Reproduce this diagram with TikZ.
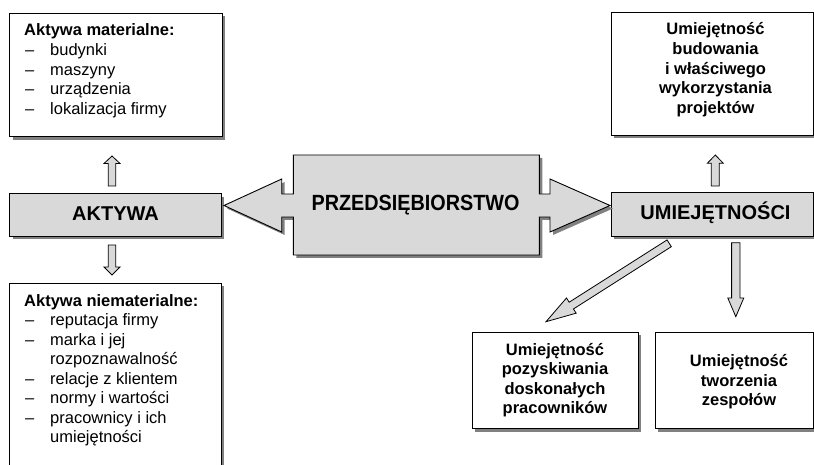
\documentclass[tikz,border=0pt]{standalone}
\usepackage{fontspec}
\setmainfont{Liberation Sans}
\newfontfamily\narrowfont[FakeStretch=0.9]{Liberation Sans}
\usetikzlibrary{calc,shadows}
\definecolor{boxgray}{RGB}{217,217,217}
\definecolor{shadowgray}{RGB}{128,128,128}
\newcommand\BlkArrow[5]{% start, tip, shaft half, head half, head length
  \coordinate (bh) at ($(#2)!#5!(#1)$);
  \draw[blockarrow] ($(#1)!#3!90:(#2)$) -- ($(bh)!#3!90:(#2)$) -- ($(bh)!#4!90:(#2)$) -- (#2)
    -- ($(bh)!#4!-90:(#2)$) -- ($(bh)!#3!-90:(#2)$) -- ($(#1)!#3!-90:(#2)$) -- cycle;
}
\tikzset{
  shad/.style={drop shadow={shadow xshift=3pt, shadow yshift=-3pt, fill=shadowgray, opacity=1}},
  box/.style={draw=black, line width=0.9pt, fill=white, inner sep=0pt, anchor=north west, shad},
  graybox/.style={box, fill=boxgray},
  blockarrow/.style={draw=black, line width=0.8pt, fill=boxgray, line join=miter},
  txt/.style={font=\fontsize{16.5}{19.6}\selectfont, inner sep=0pt, anchor=base west},
  btxt/.style={txt, font=\fontsize{16.5}{19.6}\selectfont\bfseries},
  ctxt/.style={btxt, anchor=base},
  big/.style={font=\fontsize{20}{24}\selectfont\bfseries, inner sep=0pt, anchor=base}
}
\begin{document}
\begin{tikzpicture}[x=1pt,y=-1pt]
\useasboundingbox (0,0) rectangle (814,465);
\clip (0,0) rectangle (814,465);

% boxes
\node[box, minimum width=212.2pt, minimum height=123.8pt] (mat) at (9.3,12.7) {};
\node[box, minimum width=202pt, minimum height=123.3pt] (proj) at (611,11.7) {};
\node[graybox, minimum width=211.4pt, minimum height=42.7pt] (akt) at (9.3,193.3) {};
\node[box, minimum width=211.4pt, minimum height=200pt] (niemat) at (9.3,282.7) {};
\node[graybox, minimum width=202.3pt, minimum height=44pt] (umi) at (610.7,191.7) {};
\node[box, minimum width=166pt, minimum height=96.6pt] (poz) at (471.7,331.7) {};
\node[box, minimum width=158pt, minimum height=96.6pt] (zesp) at (655,331.7) {};

% central shape
\draw[blockarrow, line width=0.9pt, shad]
  (224,205.5) -- (281.7,179) -- (281.7,194) -- (293.3,194) -- (293.3,155) -- (539.3,155)
  -- (539.3,194) -- (550,194) -- (550,179) -- (610,205.5) -- (550,232) -- (550,217)
  -- (539.3,217) -- (539.3,255) -- (293.3,255) -- (293.3,217) -- (281.7,217)
  -- (281.7,232) -- cycle;
\node[inner sep=0pt, anchor=base, font=\fontsize{22}{26}\narrowfont\bfseries] (ent) at (415.5,210.7) {PRZEDSIĘBIORSTWO};

% labels of gray boxes
\node[big] (aktl) at (115.5,220.5) {AKTYWA};
\node[big] (umil) at (715.5,220) {UMIEJĘTNOŚCI};

% block arrows
\coordinate (a1s) at (112,186);   \coordinate (a1t) at (112,156);
\coordinate (a2s) at (112,245);   \coordinate (a2t) at (112,275);
\coordinate (a3s) at (715.3,186); \coordinate (a3t) at (715.3,155);
\coordinate (a4s) at (735.8,242.7); \coordinate (a4t) at (735.8,316.7);
\coordinate (a5s) at (669.2,243.3); \coordinate (a5t) at (546,321.7);
\BlkArrow{a1s}{a1t}{3.7pt}{8pt}{7.5pt}
\BlkArrow{a2s}{a2t}{3.7pt}{8pt}{8pt}
\BlkArrow{a3s}{a3t}{4pt}{8pt}{8.3pt}
\BlkArrow{a4s}{a4t}{4.2pt}{8pt}{18.7pt}
\BlkArrow{a5s}{a5t}{4pt}{9pt}{30pt}

% Aktywa materialne
\node[btxt] (m0) at (24,36) {Aktywa materialne:};
\foreach \t [count=\i] in {budynki, maszyny, urządzenia, lokalizacja firmy} {
  \node[txt] (md\i) at (25,{36+19.6*\i}) {–};
  \node[txt] (mt\i) at (50,{36+19.6*\i}) {\t};
}

% Aktywa niematerialne
\node[btxt] (n0) at (24,306) {Aktywa niematerialne:};
\node[txt] (nd1) at (25,325.5) {–};  \node[txt] (nt1) at (50,325.5) {reputacja firmy};
\node[txt] (nd2) at (25,345) {–};    \node[txt] (nt2) at (50,345) {marka i jej};
                                     \node[txt] (nt2b) at (50,364.5) {rozpoznawalność};
\node[txt] (nd3) at (25,384) {–};    \node[txt] (nt3) at (50,384) {relacje z klientem};
\node[txt] (nd4) at (25,403.5) {–};  \node[txt] (nt4) at (50,403.5) {normy i wartości};
\node[txt] (nd5) at (25,423) {–};    \node[txt] (nt5) at (50,423) {pracownicy i ich};
                                     \node[txt] (nt5b) at (50,442.5) {umiejętności};

% projects box
\foreach \t [count=\i] in {Umiejętność, budowania, i właściwego, wykorzystania, projektów} {
  \node[ctxt] (p\i) at (715.5,{35+19.6*(\i-1)}) {\t};
}
% bottom boxes
\foreach \t [count=\i] in {Umiejętność, pozyskiwania, doskonałych, pracowników} {
  \node[ctxt] (q\i) at (555,{355+19.5*(\i-1)}) {\t};
}
\foreach \t [count=\i] in {Umiejętność, tworzenia, zespołów} {
  \node[ctxt] (z\i) at (739,{366.5+19.5*(\i-1)}) {\t};
}
\end{tikzpicture}
\end{document}
